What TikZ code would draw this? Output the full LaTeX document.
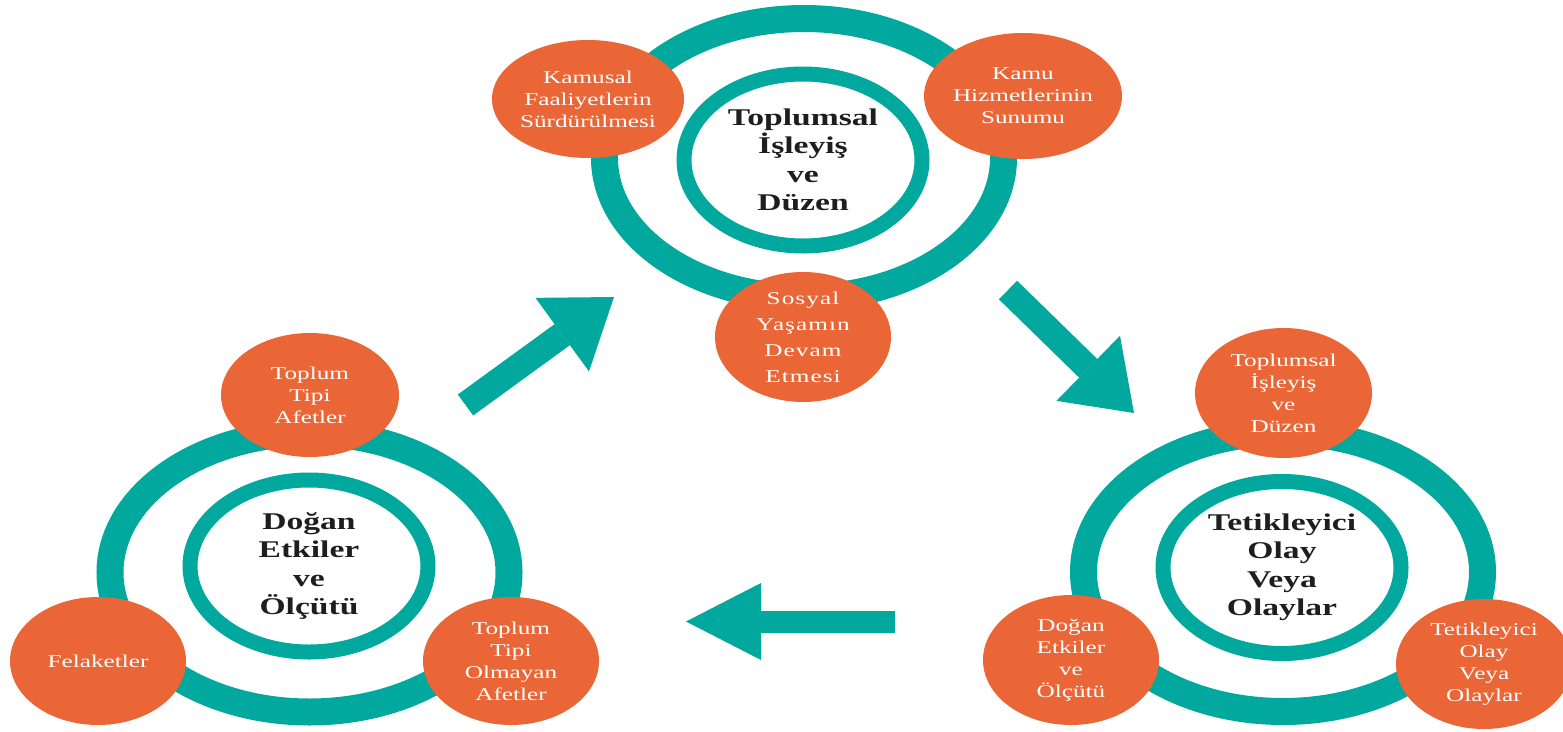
\documentclass[tikz,border=0pt]{standalone}
\usepackage{fontspec}
\setmainfont{Liberation Serif}[FakeStretch=1.4]
\usetikzlibrary{shapes.geometric,arrows.meta}
\definecolor{tealc}{RGB}{0,168,157}
\definecolor{orng}{RGB}{234,102,54}
\definecolor{ink}{RGB}{30,30,30}
\begin{document}
\begin{tikzpicture}[x=1pt,y=-1pt,
  outerring/.style={ellipse, draw=tealc, line width=27pt, minimum width=399pt, minimum height=279pt, inner sep=0pt},
  innerring/.style={ellipse, draw=tealc, line width=15pt, minimum width=238pt, minimum height=172pt, inner sep=0pt, align=center, text=ink, font=\fontsize{24}{28.5}\selectfont\bfseries},
  bubble/.style={ellipse, fill=orng, minimum width=176pt, minimum height=126pt, inner sep=0pt, align=center, text=white, font=\fontsize{18}{22}\selectfont},
  bigarrow/.style={draw=tealc, line width=26pt, -{Triangle[length=64pt, width=91pt, line width=0pt]}},
  flatarrow/.style={draw=tealc, line width=22pt, -{Triangle[length=75pt, width=77pt, line width=0pt]}}]
\useasboundingbox (0,0) rectangle (1563,731);
% top cluster
\node[outerring] (tout) at (804,158) {};
\node[innerring] (tin) at (803,160) {Toplumsal\\İşleyiş\\ve\\Düzen};
\node[bubble, minimum height=118pt] (t1) at (588,99) {Kamusal\\Faaliyetlerin\\Sürdürülmesi};
\node[bubble] (t2) at (1023,96) {Kamu\\Hizmetlerinin\\Sunumu};
\node[bubble, minimum height=130pt, font=\fontsize{18}{26}\selectfont\addfontfeature{LetterSpace=6}] (t3) at (803,337) {Sosyal\\Yaşamın\\Devam\\Etmesi};
% left cluster
\node[outerring] (lout) at (309.5,572.5) {};
\node[innerring] (lin) at (309,566) {Doğan\\Etkiler\\ve\\Ölçütü};
\node[bubble, minimum width=178pt, minimum height=124pt] (l1) at (310,395) {Toplum\\Tipi\\Afetler};
\node[bubble, minimum height=128pt] (l2) at (98,661) {Felaketler};
\node[bubble, minimum height=128pt] (l3) at (511,661) {Toplum\\Tipi\\Olmayan\\Afetler};
% right cluster
\node[outerring] (rout) at (1283,572) {};
\node[innerring] (rin) at (1282,567.5) {Tetikleyici\\Olay\\Veya\\Olaylar};
\node[bubble, minimum width=177pt, minimum height=130pt] (r1) at (1283.5,393) {Toplumsal\\İşleyiş\\ve\\Düzen};
\node[bubble, minimum height=130pt] (r2) at (1071,660) {Doğan\\Etkiler\\ve\\Ölçütü};
\node[bubble, minimum height=130pt] (r3) at (1484,664) {Tetikleyici\\Olay\\Veya\\Olaylar};
% arrows
\coordinate (a1s) at (465.5,405);
\coordinate (a1e) at (614,297);
\coordinate (a2s) at (1008,290);
\coordinate (a2e) at (1134,413);
\coordinate (a3s) at (895,621.5);
\coordinate (a3e) at (686,621.5);
\draw[bigarrow] (a1s) -- (a1e);
\draw[bigarrow] (a2s) -- (a2e);
\draw[flatarrow] (a3s) -- (a3e);
\end{tikzpicture}
\end{document}
